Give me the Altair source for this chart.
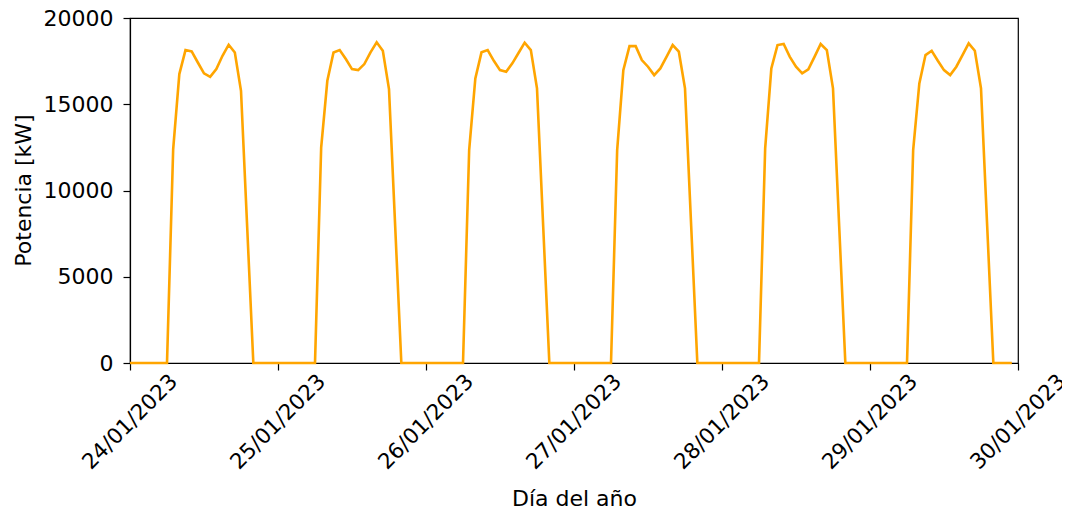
import altair as alt
import pandas as pd

# Days shown (local midnight) and hourly power values [kW] for hours 0..23
days = ["2023-01-24", "2023-01-25", "2023-01-26", "2023-01-27", "2023-01-28", "2023-01-29"]

z7 = [0, 0, 0, 0, 0, 0, 0]
z4 = [0, 0, 0, 0]
day1 = z7 + [12390, 16750, 18140, 18060, 17420, 16790, 16590, 17040, 17810, 18450, 18000, 15780, 7900] + z4
day2 = z7 + [12490, 16360, 18005, 18140, 17620, 17040, 16980, 17330, 18005, 18590, 18100, 15875, 7950] + z4
day3 = z7 + [12345, 16500, 18010, 18140, 17520, 16980, 16885, 17370, 17970, 18570, 18140, 15920, 7960] + z4
day4 = z7 + [12345, 16980, 18370, 18370, 17560, 17175, 16690, 17080, 17750, 18430, 18045, 15920, 7960] + z4
day5 = z7 + [12440, 17080, 18430, 18490, 17750, 17175, 16790, 17020, 17750, 18490, 18140, 15920, 7960] + z4
day6 = z7 + [12345, 16210, 17850, 18100, 17520, 16980, 16690, 17175, 17850, 18530, 18100, 15920, 7960] + z4

y_ticks = [0, 5000, 10000, 15000, 20000]

rows = []
for d, vals in zip(days, [day1, day2, day3, day4, day5, day6]):
    for h, v in enumerate(vals):
        rows.append({"t": f"{d}T{h:02d}:00:00", "p": v})
df = pd.DataFrame(rows)

FONT = "DejaVu Sans"

chart = (
    alt.Chart(df)
    .mark_line(color="#FFA500", strokeWidth=2.6)
    .encode(
        x=alt.X(
            "t:T",
            scale=alt.Scale(
                domain=[alt.DateTime(year=2023, month=1, date=24), alt.DateTime(year=2023, month=1, date=30)],
                nice=False,
            ),
            axis=alt.Axis(
                title="Día del año",
                format="%d/%m/%Y",
                tickCount={"interval": "day", "step": 1},
                labelAngle=-45,
                labelAlign="center",
                labelBaseline="middle",
                labelPadding=52,
                labelFontSize=21.5,
                labelFlush=False,
                labelOverlap=False,
                titleY=142,
                titleBaseline="alphabetic",
                grid=False,
            ),
        ),
        y=alt.Y(
            "p:Q",
            scale=alt.Scale(domain=[0, 20000], nice=False),
            axis=alt.Axis(
                title="Potencia [kW]",
                values=y_ticks,
                format="d",
                labelPadding=10,
                titleX=-107,
                titleY=172,
                titleBaseline="middle",
                grid=False,
            ),
        ),
    )
    .properties(
        width=888,
        height=345,
        autosize=alt.AutoSizeParams(type="none"),
        padding={"left": 122, "top": 10, "right": 44, "bottom": 143},
    )
    .configure_view(stroke="black", strokeWidth=1.2)
    .configure_axis(
        domainColor="black",
        domainWidth=1.2,
        tickColor="black",
        tickWidth=1.2,
        tickSize=7,
        labelFont=FONT,
        labelFontSize=22,
        labelColor="black",
        titleFont=FONT,
        titleFontSize=22,
        titleFontWeight="normal",
        titleColor="black",
    )
)

chart.save("out.html", embed_options={"renderer": "svg", "actions": False})
